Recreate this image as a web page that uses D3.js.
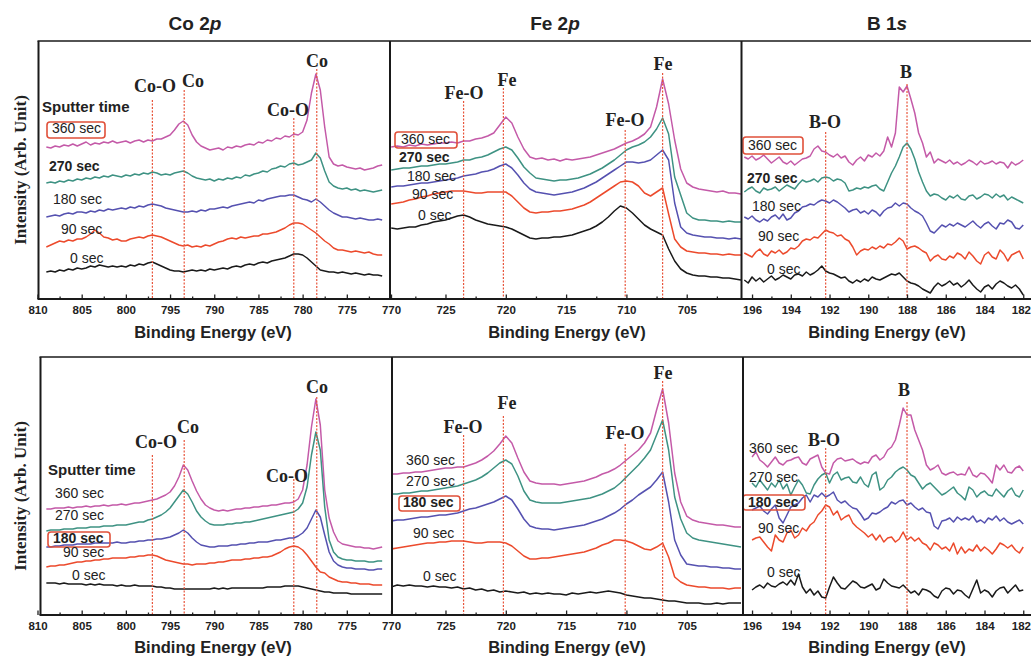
<!DOCTYPE html>
<html>
<head>
<meta charset="utf-8">
<script src="https://cdn.jsdelivr.net/npm/d3@7/dist/d3.min.js"></script>
<style>
html,body{margin:0;padding:0;background:#fff;}
svg{display:block;}
</style>
</head>
<body>
<svg id="chart" width="1031" height="661"></svg>
<script>
// ---------------- DATA ----------------
const sputterLabels = ["360 sec","270 sec","180 sec","90 sec","0 sec"];
const panelTitles = [["Co 2","p"],["Fe 2","p"],["B 1","s"]];
const coTicks = [810,805,800,795,790,785,780,775,770];
const coMinor = [807.5,802.5,797.5,792.5,787.5,782.5,777.5,772.5];
const feTicks = [725,720,715,710,705];
const feMinor = [727.5,722.5,717.5,712.5,707.5,702.5];
const bTicks = [196,194,192,190,188,186,184,182];
const bMinor = [195,193,191,189,187,185,183];

const coPeaks = [797.0,793.4,781.0,778.4];
const coPeakNames = ["Co-O","Co","Co-O","Co"];
const fePeaks = [723.5,720.2,710.1,707.0];
const fePeakNames = ["Fe-O","Fe","Fe-O","Fe"];
const bPeaks = [192.2,188.0];
const bPeakNames = ["B-O","B"];

// energy sampling grids (eV)
const coEnergy = d3.range(809, 770.75, -0.5);
const feEnergy = d3.range(729.5, 700.25, -0.5);
const bEnergyTop = d3.range(73).map(i => +(196.4 - 0.2*i).toFixed(1));
const bEnergyBot = d3.range(71).map(i => +(196.0 - 0.2*i).toFixed(1));

// Co 2p, upper set
const coTop360 = [152,151,153,152,154,153,155,153,155,157,154,156,155,157,156,158,156,157,158,156,158,159,157,159,158,160,160,162,164,169,175,178,174,164,157,153,151,149,150,151,149,152,151,153,152,154,155,154,157,156,159,158,161,160,163,162,165,164,167,179,206,225,209,172,142,135,133,134,132,131,130,131,129,130,131,133,134];
const coTop270 = [116,117,116,118,117,119,118,120,119,121,120,122,121,123,122,124,123,122,124,123,125,124,126,125,127,126,124,125,124,126,127,128,126,123,121,120,119,120,118,120,119,121,120,122,121,124,123,125,126,128,127,130,131,133,132,135,136,134,135,137,139,146,141,128,117,113,111,110,111,109,110,108,109,108,107,108,109];
const coTop180 = [82,83,84,83,85,86,85,87,87,86,88,87,89,88,90,89,90,91,90,92,91,93,92,94,95,94,93,91,90,89,88,87,87,88,87,89,88,90,90,91,92,91,93,94,95,96,97,96,99,98,100,101,102,103,103,104,104,102,100,99,97,100,97,93,89,86,84,82,82,81,80,81,80,79,79,80,79];
const coTop90 = [52,54,56,58,57,59,58,60,60,62,65,69,66,62,61,59,60,58,58,60,61,62,61,63,64,63,62,60,58,56,54,53,54,52,53,52,54,53,55,57,58,60,61,60,62,61,62,63,63,65,65,66,67,69,71,74,76,76,75,72,69,66,62,58,55,51,49,49,48,47,48,47,46,47,45,44,44];
const coTop0 = [27,28,27,29,28,30,29,31,30,31,33,32,34,33,32,33,32,33,32,34,33,35,34,36,37,35,33,31,29,28,28,27,28,29,28,29,28,30,29,30,31,30,32,33,32,34,35,34,36,37,36,38,39,40,41,43,45,45,44,41,37,33,29,28,27,27,26,27,26,25,26,25,24,25,24,24,23];

// Fe 2p, upper set
const feTop360 = [152,153,152,154,153,155,154,155,156,156,157,156,158,158,160,161,163,166,174,182,176,162,150,142,140,141,139,140,138,140,139,140,141,142,144,146,148,150,153,156,158,161,165,172,192,220,195,159,130,116,112,110,109,108,107,108,106,106,105];
const feTop270 = [129,130,131,131,132,133,133,134,135,135,136,137,139,139,141,142,144,147,150,152,149,141,132,126,121,120,119,118,119,119,120,121,123,125,128,131,135,139,144,149,152,154,157,162,170,181,165,122,104,86,81,79,79,78,78,77,78,77,77];
const feTop180 = [112,113,113,114,115,116,116,117,118,119,120,121,123,124,125,127,128,130,133,135,131,124,116,110,107,106,105,104,105,106,107,109,111,114,117,121,125,129,133,137,137,136,137,139,144,149,139,96,72,66,64,63,62,62,61,61,60,61,60];
const feTop90 = [95,96,97,99,100,102,103,105,106,107,108,108,108,107,106,106,107,107,107,107,103,97,91,87,86,87,87,88,88,89,90,92,94,97,101,105,109,113,117,118,117,113,106,103,107,111,85,60,52,48,47,46,46,45,45,44,45,44,44];
const feTop0 = [71,70,71,72,72,74,75,77,78,79,81,83,84,82,79,77,75,74,73,72,70,67,64,61,60,61,61,62,62,63,64,66,68,70,73,77,82,88,93,91,86,80,74,70,67,64,50,38,30,26,24,23,23,22,22,21,21,20,19];

// B 1s, upper set
const bTop360 = [142,140,143,139,141,144,140,136,139,142,137,135,138,134,137,140,141,143,150,153,148,147,144,142,145,141,143,137,134,139,142,138,144,142,146,143,148,162,152,166,212,207,213,200,186,166,156,142,147,136,140,138,136,139,135,137,134,136,139,137,134,138,135,136,138,135,137,136,131,137,134,136,139];
const bTop270 = [107,110,112,108,106,111,109,110,112,108,111,114,112,110,115,119,117,118,120,117,121,122,121,118,120,119,116,108,109,111,110,112,111,113,114,110,108,117,126,133,142,152,156,150,140,127,117,108,103,105,104,101,99,103,101,104,100,99,103,104,100,102,105,104,101,105,102,104,99,102,100,98,96];
const bTop180 = [82,80,83,79,77,80,78,82,84,80,85,79,81,86,88,92,93,95,94,97,99,98,96,99,97,94,91,87,89,90,86,88,85,89,87,83,88,91,92,96,93,96,95,91,88,86,83,76,68,66,70,74,72,75,73,76,74,72,75,78,74,71,75,77,73,70,76,75,79,77,71,70,74];
const bTop90 = [46,44,42,47,50,45,43,48,46,49,45,47,51,50,53,58,60,59,62,61,65,69,67,66,63,64,60,58,52,44,48,50,49,52,50,53,51,55,54,57,61,58,50,52,53,51,48,46,38,42,44,40,39,43,41,46,44,40,47,43,38,35,44,47,42,40,49,45,38,44,46,48,40];
const bTop0 = [19,16,22,18,21,17,20,23,19,21,24,22,20,24,25,23,27,24,26,29,33,28,26,25,23,21,22,18,16,19,17,20,18,22,20,19,21,23,25,24,26,22,18,16,15,13,10,8,6,12,16,13,15,18,14,16,12,15,19,14,10,7,12,14,10,15,18,16,13,11,14,10,4];

// Co 2p, lower set
const coBot360 = [106,106,107,107,107,108,107,108,108,109,108,109,109,110,109,110,110,111,110,111,112,112,113,114,115,116,118,120,123,129,138,150,145,134,124,116,110,107,105,104,105,104,105,106,106,107,107,108,108,109,109,110,110,111,112,112,113,116,125,150,188,216,190,125,97,83,74,71,70,69,68,68,67,67,66,67,68];
const coBot270 = [84,85,85,85,86,86,86,87,87,87,88,88,88,89,89,89,90,90,90,91,92,93,93,95,96,98,100,103,107,113,119,125,121,113,104,98,94,91,90,90,90,91,91,92,92,93,93,94,95,96,97,98,99,100,101,102,103,106,112,128,160,183,165,108,75,63,58,56,55,55,54,54,54,53,53,54,54];
const coBot180 = [68,68,69,69,70,70,70,71,71,71,71,72,72,72,72,72,73,72,72,73,73,74,74,75,75,76,76,77,78,80,82,85,82,77,73,70,69,68,68,69,69,69,70,70,71,71,72,72,73,73,73,74,75,75,76,77,77,79,82,87,96,105,98,80,63,54,50,48,47,47,46,46,46,45,45,46,46];
const coBot90 = [48,49,49,50,50,51,52,53,53,54,54,55,55,56,56,57,57,57,57,58,58,59,59,60,60,59,57,55,54,53,52,51,51,50,51,51,51,52,52,53,53,54,55,55,55,56,56,57,57,58,58,59,61,63,66,68,69,68,65,60,54,48,43,42,38,36,34,33,33,32,32,31,31,31,30,30,30];
const coBot0 = [32,32,32,31,32,31,31,31,31,30,31,30,31,30,30,30,29,30,29,29,30,29,29,29,29,28,28,27,27,26,26,26,26,26,26,26,26,26,27,26,27,26,27,27,27,27,27,27,27,27,28,28,28,28,29,29,29,29,28,27,26,25,24,23,23,22,22,22,22,21,21,21,21,21,21,21,21];

// Fe 2p, lower set
const feBot360 = [141,141,142,142,143,143,144,145,146,147,147,148,148,150,152,155,159,164,171,179,172,157,143,134,132,131,131,131,130,131,132,133,134,136,138,141,143,146,150,155,160,165,172,182,205,226,192,142,113,99,95,93,92,91,90,90,89,88,88];
const feBot270 = [121,121,122,122,123,124,124,125,126,127,128,129,131,133,135,138,142,147,152,155,151,139,124,115,113,112,112,112,112,113,114,115,116,117,119,121,124,127,132,138,144,150,157,165,180,195,165,118,96,82,77,75,74,73,72,71,70,69,68];
const feBot180 = [94,95,95,96,97,98,98,99,100,100,101,102,104,106,107,109,111,113,116,119,115,106,96,89,87,86,86,85,86,87,88,89,90,92,94,96,99,102,106,111,115,120,124,128,135,143,113,75,60,51,50,49,49,48,48,47,47,46,46];
const feBot90 = [66,67,68,69,70,71,72,72,73,73,74,74,74,73,72,72,73,73,73,72,69,64,59,56,56,57,57,58,59,60,61,62,63,65,67,70,72,75,75,74,72,69,66,65,68,72,58,38,33,30,29,28,28,27,27,27,26,27,27];
const feBot0 = [28,30,29,30,29,29,28,29,28,28,27,28,26,27,25,26,24,25,23,24,23,22,23,21,22,21,22,21,21,20,22,21,22,23,22,23,24,23,22,20,19,18,17,17,16,15,14,14,13,12,12,12,11,11,12,11,12,12,12];

// B 1s, lower set
const bBot360 = [158,163,155,152,148,153,158,152,150,154,155,157,158,152,150,156,158,160,148,142,141,152,156,157,154,155,156,153,151,153,152,158,160,155,158,165,168,175,190,207,200,200,185,175,165,150,145,147,150,142,140,142,143,140,141,140,148,140,138,142,141,137,132,150,145,150,143,142,147,149,144];
const bBot270 = [132,128,135,130,125,132,128,135,126,131,120,128,135,130,122,121,130,136,140,142,132,140,143,135,137,138,133,132,138,131,128,140,143,125,128,135,138,143,146,148,145,140,138,132,126,130,132,128,124,120,122,125,128,122,119,115,128,125,118,122,124,120,119,126,122,118,124,127,120,118,125];
const bBot180 = [105,107,109,104,101,106,110,97,92,100,108,110,112,117,120,113,120,118,122,118,120,123,115,112,114,110,107,106,101,95,97,102,101,103,106,108,113,111,114,115,110,112,108,105,107,103,102,89,86,94,95,97,93,98,95,97,95,99,93,95,92,97,95,99,94,97,93,91,93,95,91];
const bBot90 = [75,77,78,73,68,64,80,75,73,82,85,77,80,87,84,90,93,100,104,110,108,100,104,95,98,100,92,88,85,82,78,81,75,80,73,77,78,73,76,83,75,78,74,77,72,70,65,72,70,66,68,64,72,61,68,62,66,64,70,64,68,65,61,66,72,70,67,70,65,62,68];
const bBot0 = [25,28,30,27,32,29,28,31,33,30,35,30,41,28,22,26,20,24,18,17,28,38,32,27,26,30,34,32,28,27,29,31,25,27,36,32,29,28,27,30,26,22,24,20,26,25,23,19,17,24,27,26,21,25,24,20,17,26,35,22,25,23,18,24,27,28,22,26,30,24,25];

// ---------------- DRAWING ----------------
const SANS = "'Liberation Sans', Arial, sans-serif";
const SERIF = "'Liberation Serif', 'Times New Roman', serif";
const seriesColors = ["#c45aa8","#3e9283","#5551b0","#ec4a2c","#1a1a1a"];
const peakColor = "#e8543a";
const boxColor = "#e0503a";

const svg = d3.select("#chart");
svg.append("rect").attr("width",1031).attr("height",661).attr("fill","#fff");

const rows = [
  {top:41, bottom:299, left:38.5, div1:390, div2:741.5, titleY:338},
  {top:357, bottom:615, left:40.5, div1:392, div2:743, titleY:653}
];

const xCo = d3.scaleLinear().domain([810,770]).range([37.5,391]);
const xFe = d3.scaleLinear().domain([729.6,700.5]).range([390,741]);
const xB  = d3.scaleLinear().domain([196.57,181.6]).range([741,1031]);

const panels = [
  {key:"co", x:xCo, ticks:coTicks, minor:coMinor, peaks:coPeaks, names:coPeakNames,
   energy:[coEnergy,coEnergy], series:[[coTop360,coTop270,coTop180,coTop90,coTop0],[coBot360,coBot270,coBot180,coBot90,coBot0]],
   clip:r=>[r.left,r.div1], titleX:213},
  {key:"fe", x:xFe, ticks:feTicks, minor:feMinor, peaks:fePeaks, names:fePeakNames,
   energy:[feEnergy,feEnergy], series:[[feTop360,feTop270,feTop180,feTop90,feTop0],[feBot360,feBot270,feBot180,feBot90,feBot0]],
   clip:r=>[r.div1,r.div2], titleX:567},
  {key:"b", x:xB, ticks:bTicks, minor:bMinor, peaks:bPeaks, names:bPeakNames,
   energy:[bEnergyTop,bEnergyBot], series:[[bTop360,bTop270,bTop180,bTop90,bTop0],[bBot360,bBot270,bBot180,bBot90,bBot0]],
   clip:r=>[r.div2,1031], titleX:887}
];

// layout of annotations (pixel positions)
const peakLayout = {
  "co0": {tops:[100,90,118,69], labels:[[155,92],[193,87],[288,116],[317,67]]},
  "fe0": {tops:[101,88,130,73], labels:[[464,99],[507,86],[625,126],[663,70]]},
  "b0":  {tops:[132,84], labels:[[825,128],[906,78]]},
  "co1": {tops:[455,440,479,397], labels:[[156,448],[188,433],[287,482],[317,393]]},
  "fe1": {tops:[435,416,444,381], labels:[[463,433],[507,409],[625,439],[663,379]]},
  "b1":  {tops:[448,402], labels:[[824,446],[904,396]]}
};
const labelLayout = {
  "co0": {sputter:[42,112], pos:[[52,133],[49,171],[53,204],[61,234],[70,263]], boxed:0, box:[47,122,58,16], bold:1},
  "fe0": {pos:[[401,144],[399,162],[407,181],[412,199],[418,220]], boxed:0, box:[395,132,62,16], bold:1},
  "b0":  {pos:[[748,150],[747,183],[752,211],[758,241],[767,274]], boxed:0, box:[743,137,60,17], bold:1},
  "co1": {sputter:[48,475], pos:[[55,498],[55,520],[53,543],[63,557],[72,580]], boxed:2, box:[48,532,62,15], bold:2},
  "fe1": {pos:[[406,465],[406,486],[403,507],[413,538],[423,581]], boxed:2, box:[399,496,61,15], bold:2},
  "b1":  {pos:[[749,453],[749,482],[748,507],[758,533],[767,577]], boxed:2, box:[743,495,62,15], bold:2}
};

const defs = svg.append("defs");

rows.forEach((r, ri) => {
  const y = d3.scaleLinear().domain([0,258]).range([r.bottom, r.top]);
  panels.forEach((p, pi) => {
    const id = p.key + ri;
    const [cx0, cx1] = p.clip(r);
    defs.append("clipPath").attr("id","clip-"+id)
      .append("rect").attr("x",cx0).attr("y",r.top).attr("width",cx1-cx0).attr("height",r.bottom-r.top);
    const g = svg.append("g").attr("clip-path",`url(#clip-${id})`);
    const en = p.energy[ri];
    const line = d3.line()
      .defined((d,i) => en[i] !== undefined)
      .x((d,i) => p.x(en[i]))
      .y(d => y(d));
    p.series[ri].forEach((s, si) => {
      g.append("path").datum(s)
        .attr("d", line)
        .attr("fill","none")
        .attr("stroke", seriesColors[si])
        .attr("stroke-width",1.5)
        .attr("stroke-linejoin","round");
    });
    // peak reference lines
    const pl = peakLayout[id];
    p.peaks.forEach((e, k) => {
      svg.append("line")
        .attr("x1",p.x(e)).attr("x2",p.x(e))
        .attr("y1",pl.tops[k]).attr("y2",r.bottom-1)
        .attr("stroke",peakColor).attr("stroke-width",1.2)
        .attr("stroke-dasharray","2,1.5");
      svg.append("text")
        .attr("x",pl.labels[k][0]).attr("y",pl.labels[k][1])
        .attr("text-anchor","middle")
        .attr("font-family",SERIF).attr("font-weight","bold").attr("font-size",18)
        .attr("fill","#222").text(p.names[k]);
    });
    // series labels
    const ll = labelLayout[id];
    if (ll.sputter) {
      svg.append("text").attr("x",ll.sputter[0]).attr("y",ll.sputter[1])
        .attr("font-family",SANS).attr("font-weight","bold").attr("font-size",15)
        .attr("fill","#222").text("Sputter time");
    }
    svg.append("rect")
      .attr("x",ll.box[0]).attr("y",ll.box[1]).attr("width",ll.box[2]).attr("height",ll.box[3])
      .attr("rx",3).attr("fill","none").attr("stroke",boxColor).attr("stroke-width",1.6);
    sputterLabels.forEach((t, k) => {
      svg.append("text").attr("x",ll.pos[k][0]).attr("y",ll.pos[k][1])
        .attr("font-family",SANS).attr("font-size",14)
        .attr("font-weight", k === ll.bold ? "bold" : "normal")
        .attr("fill","#222").text(t);
    });
    // axis ticks
    const ax = svg.append("g").attr("transform",`translate(0,${r.bottom})`)
      .call(d3.axisBottom(p.x).tickValues(p.ticks).tickSize(-4.5).tickPadding(7).tickFormat(d3.format("d")));
    ax.select(".domain").remove();
    ax.selectAll("line").attr("stroke","#222").attr("stroke-width",1.3);
    ax.selectAll("text").attr("font-family",SANS).attr("font-weight","bold")
      .attr("font-size",11.5).attr("fill","#222");
    // keep the last label inside the picture
    ax.selectAll(".tick text").filter(d => p.x(d) + 10 > 1031)
      .attr("text-anchor","end").attr("x", d => 1030.5 - p.x(d));
    const axm = svg.append("g").attr("transform",`translate(0,${r.bottom})`)
      .call(d3.axisBottom(p.x).tickValues(p.minor).tickSize(-2.5).tickFormat(""));
    axm.select(".domain").remove();
    axm.selectAll("line").attr("stroke","#222").attr("stroke-width",1.3);
    // axis title
    svg.append("text").attr("x",p.titleX).attr("y",r.titleY)
      .attr("text-anchor","middle").attr("font-family",SANS).attr("font-weight","bold")
      .attr("font-size",16.5).attr("fill","#222").text("Binding Energy (eV)");
  });
  // frame
  const fr = svg.append("g").attr("stroke","#1a1a1a").attr("fill","none");
  fr.append("line").attr("x1",r.left-1).attr("x2",1031).attr("y1",r.top).attr("y2",r.top).attr("stroke-width",1.6);
  fr.append("line").attr("x1",r.left-1).attr("x2",1031).attr("y1",r.bottom).attr("y2",r.bottom).attr("stroke-width",2);
  [r.left, r.div1, r.div2].forEach(xv => {
    fr.append("line").attr("x1",xv).attr("x2",xv).attr("y1",r.top).attr("y2",r.bottom).attr("stroke-width",2);
  });
  // y-axis title
  const yc = (r.top + r.bottom)/2 + (ri === 0 ? 0 : 10);
  svg.append("text")
    .attr("transform",`translate(26,${yc}) rotate(-90)`)
    .attr("text-anchor","middle").attr("font-family",SERIF).attr("font-weight","bold")
    .attr("font-size",17).attr("fill","#222").text("Intensity (Arb. Unit)");
});

// panel titles
const titleX = [195,555,887];
panelTitles.forEach((t, i) => {
  const tx = svg.append("text").attr("x",titleX[i]).attr("y",30)
    .attr("text-anchor","middle").attr("font-family",SANS).attr("font-weight","bold")
    .attr("font-size",19).attr("fill","#222");
  tx.append("tspan").text(t[0]);
  tx.append("tspan").attr("font-style","italic").text(t[1]);
});
</script>
</body>
</html>
